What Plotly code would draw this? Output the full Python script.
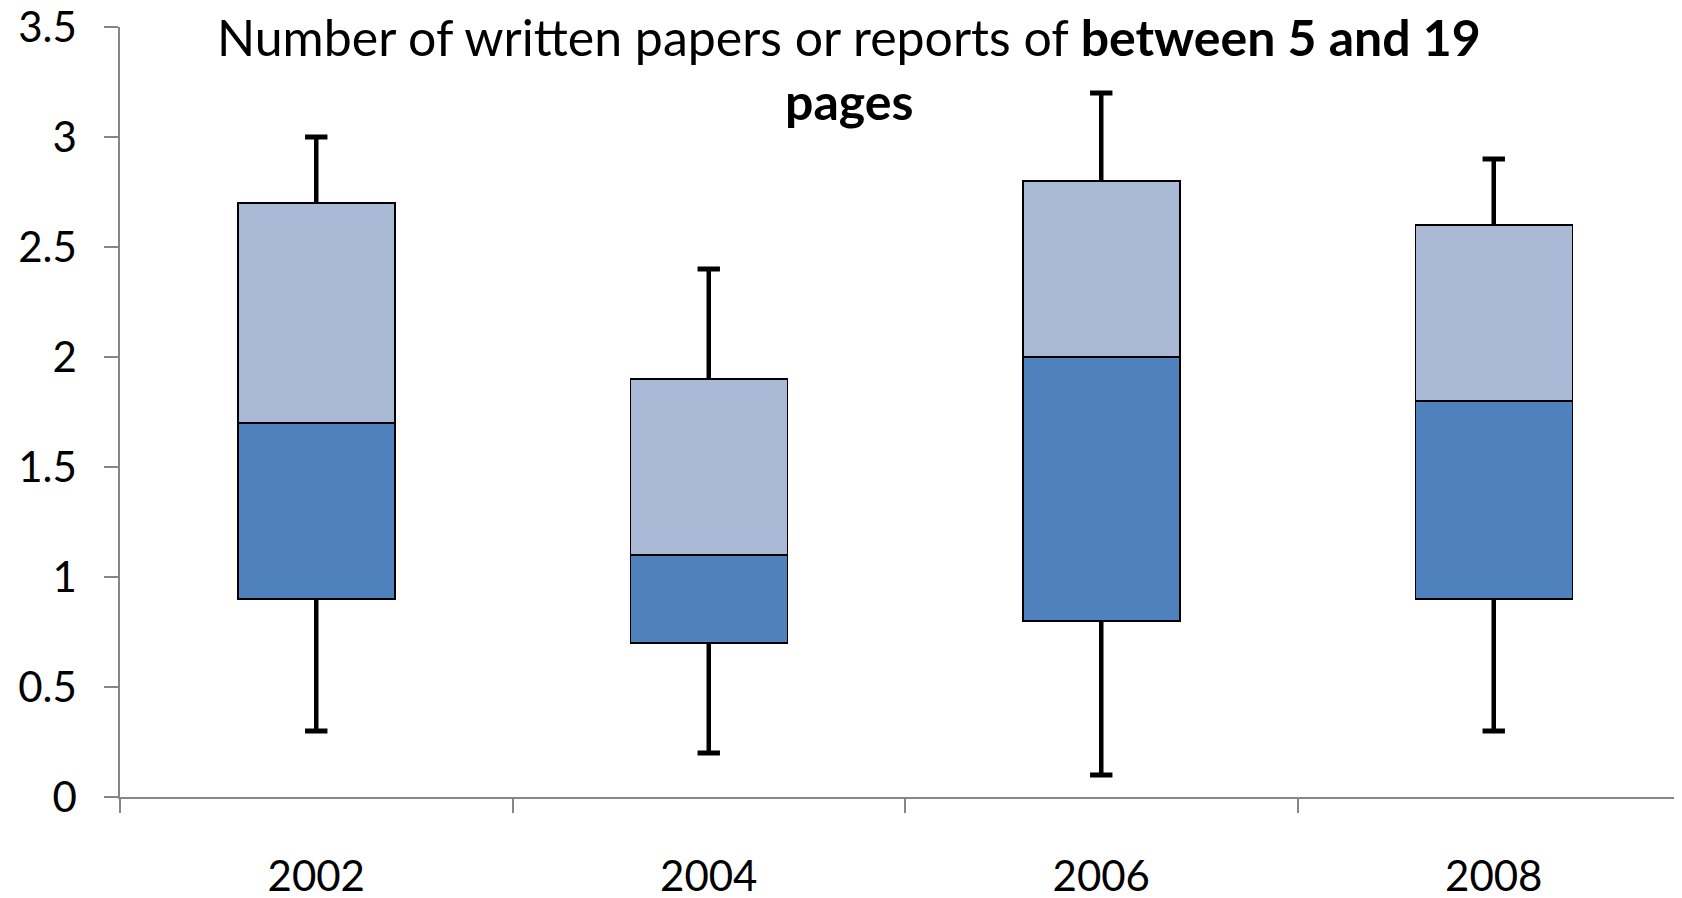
import plotly.graph_objects as go

# Data
years = ["2002", "2004", "2006", "2008"]
whisker_low = [0.3, 0.2, 0.1, 0.3]
q1 = [0.9, 0.7, 0.8, 0.9]
median = [1.7, 1.1, 2.0, 1.8]
q3 = [2.7, 1.9, 2.8, 2.6]
whisker_high = [3.0, 2.4, 3.2, 2.9]
y_ticks = [0, 0.5, 1, 1.5, 2, 2.5, 3, 3.5]
y_tick_labels = ["0", "0.5", "1", "1.5", "2", "2.5", "3", "3.5"]

title_line1 = "Number of written papers or reports of <b>between 5 and 19</b>"
title_line2 = "<b>pages</b>"

DARK = "#4F81BD"
LIGHT = "#AAB9D6"
AXIS = "#868686"
FONT = "Lato"

lower_box = [m - a for m, a in zip(median, q1)]
upper_box = [b - m for b, m in zip(q3, median)]
low_len = [a - w for a, w in zip(q1, whisker_low)]
high_len = [w - b for w, b in zip(whisker_high, q3)]

fig = go.Figure()

# invisible base
fig.add_trace(go.Bar(x=years, y=q1, marker=dict(color="rgba(0,0,0,0)", line=dict(width=0)),
                     width=0.4, hoverinfo="skip", showlegend=False))
# lower part of the box
fig.add_trace(go.Bar(x=years, y=lower_box, marker=dict(color=DARK, line=dict(color="black", width=1.5)),
                     width=0.4, showlegend=False))
# upper part of the box
fig.add_trace(go.Bar(x=years, y=upper_box, marker=dict(color=LIGHT, line=dict(color="black", width=1.5)),
                     width=0.4, showlegend=False))

# lower whiskers (from minimum up to Q1), cap drawn as marker
fig.add_trace(go.Scatter(
    x=years, y=whisker_low, mode="markers",
    marker=dict(symbol="line-ew", size=16, color="black", line=dict(color="black", width=5)),
    error_y=dict(type="data", symmetric=False, array=low_len, arrayminus=[0] * 4,
                 color="black", thickness=4.5, width=0),
    showlegend=False))
# upper whiskers (from Q3 up to maximum)
fig.add_trace(go.Scatter(
    x=years, y=whisker_high, mode="markers",
    marker=dict(symbol="line-ew", size=16, color="black", line=dict(color="black", width=5)),
    error_y=dict(type="data", symmetric=False, array=[0] * 4, arrayminus=high_len,
                 color="black", thickness=4.5, width=0),
    showlegend=False))

fig.update_layout(
    width=1682, height=898,
    barmode="stack",
    bargap=0.6,
    plot_bgcolor="white", paper_bgcolor="white",
    margin=dict(l=112, r=0, t=19, b=109),
    font=dict(family=FONT, size=42, color="black"),
    showlegend=False,
    annotations=[
        dict(text=title_line1, xref="paper", yref="paper", x=0.4645, y=0.987,
             xanchor="center", yanchor="middle", showarrow=False,
             font=dict(family=FONT, size=50, color="black")),
        dict(text=title_line2, xref="paper", yref="paper", x=0.4645, y=0.9035,
             xanchor="center", yanchor="middle", showarrow=False,
             font=dict(family=FONT, size=50, color="black")),
    ],
)
fig.update_xaxes(type="category", showline=True, linecolor=AXIS, linewidth=1.5,
                 ticks="outside", tickson="boundaries", ticklen=14, tickcolor=AXIS, tickwidth=1.5,
                 showgrid=False, zeroline=False, ticklabelstandoff=42, automargin=False,
                 ticklabeloverflow="allow",
                 tickfont=dict(family=FONT, size=42, color="black"))
fig.update_yaxes(range=[0, 3.5], tickvals=y_ticks, ticktext=y_tick_labels,
                 showline=True, linecolor=AXIS, linewidth=1.5,
                 ticks="outside", ticklen=14, tickcolor=AXIS, tickwidth=1.5,
                 showgrid=False, zeroline=False, ticklabelstandoff=19, automargin=False,
                 ticklabeloverflow="allow",
                 tickfont=dict(family=FONT, size=42, color="black"))

fig.write_html("out.html")
